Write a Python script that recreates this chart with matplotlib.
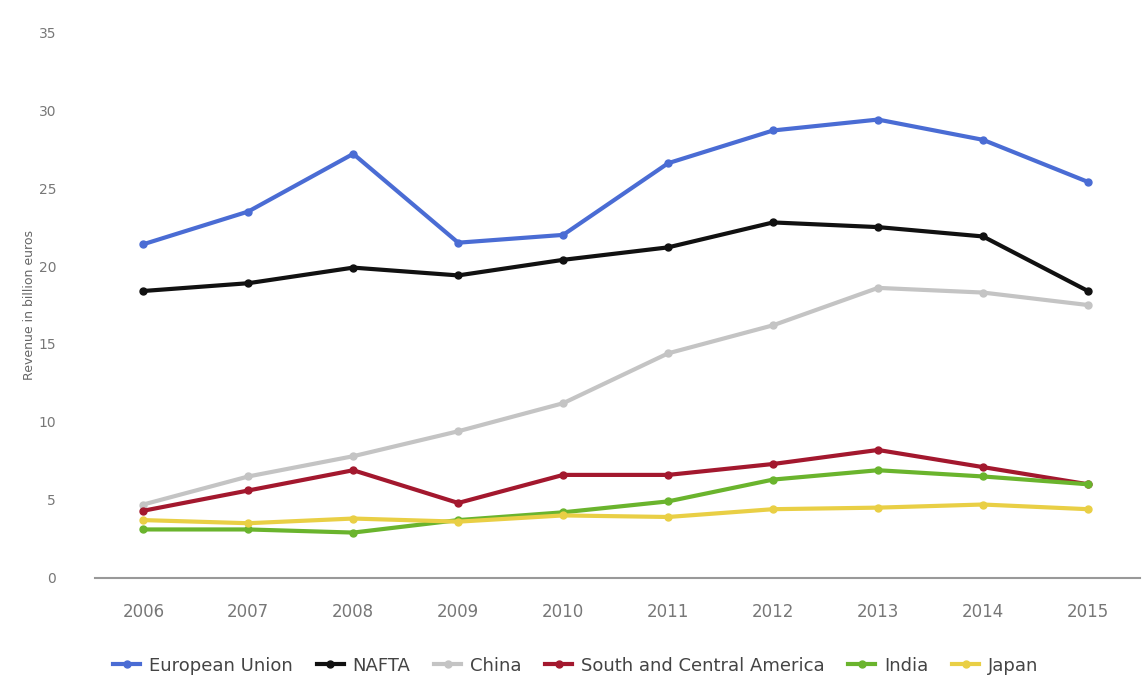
import matplotlib.pyplot as plt
import numpy as np

years = ["2006", "2007", "2008", "2009", "2010", "2011", "2012", "2013", "2014", "2015"]

eu = [21.4, 23.5, 27.2, 21.5, 22.0, 26.6, 28.7, 29.4, 28.1, 25.4]
nafta = [18.4, 18.9, 19.9, 19.4, 20.4, 21.2, 22.8, 22.5, 21.9, 18.4]
china = [4.7, 6.5, 7.8, 9.4, 11.2, 14.4, 16.2, 18.6, 18.3, 17.5]
sca = [4.3, 5.6, 6.9, 4.8, 6.6, 6.6, 7.3, 8.2, 7.1, 6.0]
india = [3.1, 3.1, 2.9, 3.7, 4.2, 4.9, 6.3, 6.9, 6.5, 6.0]
japan = [3.7, 3.5, 3.8, 3.6, 4.0, 3.9, 4.4, 4.5, 4.7, 4.4]

series = [
    ("European Union", eu, "#4a6cd4"),
    ("NAFTA", nafta, "#111111"),
    ("China", china, "#c4c4c4"),
    ("South and Central America", sca, "#a3182e"),
    ("India", india, "#6ab42d"),
    ("Japan", japan, "#e9cf45"),
]

fig = plt.figure(figsize=(11.45, 6.87), dpi=100)
ax = fig.add_axes([0.083, 0.159, 0.913, 0.794])

x = np.arange(len(years))
for name, vals, col in series:
    ax.plot(x, vals, color=col, lw=3, marker="o", ms=5, label=name, zorder=3)

ax.set_xlim(-0.46, 9.5)
ax.set_ylim(0, 35)
ax.set_yticks(np.arange(0, 36, 5))
ax.set_xticks(x)
ax.set_xticklabels(years)
ax.tick_params(axis="both", length=0, colors="#777777")
ax.tick_params(axis="y", labelsize=10, pad=28)
ax.tick_params(axis="x", labelsize=12, pad=18)
for s in ["top", "right", "left"]:
    ax.spines[s].set_visible(False)
ax.spines["bottom"].set_color("#999999")
ax.spines["bottom"].set_linewidth(1.5)
ax.set_ylabel("Revenue in billion euros", fontsize=9, color="#666666", labelpad=2)

ax.legend(loc="upper center", bbox_to_anchor=(0.46, -0.115), ncol=6, frameon=False,
          fontsize=13, handlelength=1.5, columnspacing=1.3, handletextpad=0.5,
          labelcolor="#444444")

fig.savefig("out.png", dpi=100)
